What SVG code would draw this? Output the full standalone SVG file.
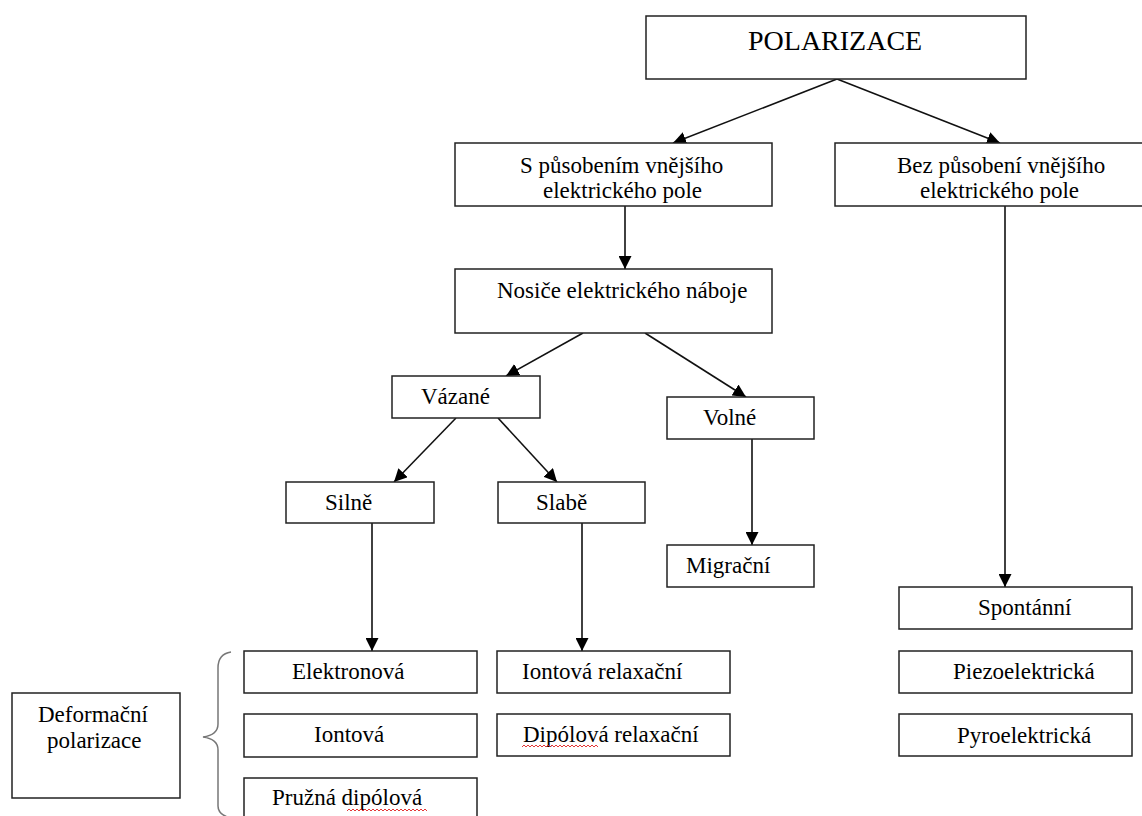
<svg xmlns="http://www.w3.org/2000/svg" width="1142" height="816" viewBox="0 0 1142 816">
<style>
.box{fill:#fff;stroke:#222;stroke-width:1.5}
.t{font-family:"Liberation Serif","Times New Roman",serif;font-size:23px;fill:#000}
.big{font-size:28px}
.c{stroke:#111;stroke-width:1.6;fill:none}
.sq{stroke:#e02020;stroke-width:0.9;fill:none}
</style>
<defs>
<marker id="ah" markerUnits="userSpaceOnUse" markerWidth="14" markerHeight="13" refX="13" refY="6.5" orient="auto">
<path d="M0,0 L13,6.5 L0,13 Z" fill="#000"/>
</marker>
</defs>
<rect width="1142" height="816" fill="#fff"/>
<g id="connectors">
<line class="c" x1="837" y1="79" x2="673" y2="143" marker-end="url(#ah)"/>
<line class="c" x1="837" y1="79" x2="1000" y2="143" marker-end="url(#ah)"/>
<line class="c" x1="625" y1="206" x2="625" y2="269" marker-end="url(#ah)"/>
<line class="c" x1="583" y1="333" x2="506" y2="376" marker-end="url(#ah)"/>
<line class="c" x1="645" y1="333" x2="746" y2="397" marker-end="url(#ah)"/>
<line class="c" x1="456" y1="418" x2="394" y2="482" marker-end="url(#ah)"/>
<line class="c" x1="498" y1="418" x2="557" y2="482" marker-end="url(#ah)"/>
<line class="c" x1="752" y1="439" x2="752" y2="545" marker-end="url(#ah)"/>
<line class="c" x1="372" y1="523" x2="372" y2="651" marker-end="url(#ah)"/>
<line class="c" x1="582" y1="523" x2="582" y2="651" marker-end="url(#ah)"/>
<line class="c" x1="1005" y1="206" x2="1005" y2="587" marker-end="url(#ah)"/>
</g>
<g id="polarizace"><rect class="box" x="646" y="16" width="380" height="63"/><text class="t big" x="748" y="50">POLARIZACE</text></g>
<g id="s-pusobenim"><rect class="box" x="455" y="143" width="317" height="63"/><text class="t" x="520" y="173">S působením vnějšího</text><text class="t" x="543" y="198">elektrického pole</text></g>
<g id="bez-pusobeni"><rect class="box" x="835" y="143" width="320" height="63"/><text class="t" x="897" y="173">Bez působení vnějšího</text><text class="t" x="920" y="198">elektrického pole</text></g>
<g id="nosice"><rect class="box" x="455" y="269" width="317" height="64"/><text class="t" x="497" y="298">Nosiče elektrického náboje</text></g>
<g id="vazane"><rect class="box" x="392" y="376" width="148" height="42"/><text class="t" x="421" y="404">Vázané</text></g>
<g id="volne"><rect class="box" x="667" y="397" width="147" height="42"/><text class="t" x="703" y="425">Volné</text></g>
<g id="silne"><rect class="box" x="286" y="482" width="148" height="41"/><text class="t" x="325" y="510">Silně</text></g>
<g id="slabe"><rect class="box" x="498" y="482" width="147" height="41"/><text class="t" x="536" y="510">Slabě</text></g>
<g id="migracni"><rect class="box" x="667" y="545" width="147" height="42"/><text class="t" x="686" y="573">Migrační</text></g>
<g id="spontanni"><rect class="box" x="899" y="587" width="233" height="42"/><text class="t" x="978" y="615">Spontánní</text></g>
<g id="piezoelektricka"><rect class="box" x="899" y="651" width="233" height="42"/><text class="t" x="953" y="679">Piezoelektrická</text></g>
<g id="pyroelektricka"><rect class="box" x="899" y="714" width="233" height="42"/><text class="t" x="957" y="743">Pyroelektrická</text></g>
<g id="iontova-relaxacni"><rect class="box" x="497" y="651" width="233" height="42"/><text class="t" x="522" y="679">Iontová relaxační</text></g>
<g id="dipolova-relaxacni"><rect class="box" x="497" y="714" width="233" height="42"/><text class="t" x="523" y="742">Dipólová relaxační</text><path class="sq" d="M522,747 l2,-2 l2,2 l2,-2 l2,2 l2,-2 l2,2 l2,-2 l2,2 l2,-2 l2,2 l2,-2 l2,2 l2,-2 l2,2 l2,-2 l2,2 l2,-2 l2,2 l2,-2 l2,2 l2,-2 l2,2 l2,-2 l2,2 l2,-2 l2,2 l2,-2 l2,2 l2,-2 l2,2 l2,-2 l2,2 l2,-2 l2,2 l2,-2 l2,2 l2,-2 l2,2"/></g>
<g id="elektronova"><rect class="box" x="244" y="651" width="233" height="42"/><text class="t" x="292" y="679">Elektronová</text></g>
<g id="iontova"><rect class="box" x="244" y="714" width="233" height="43"/><text class="t" x="314" y="742">Iontová</text></g>
<g id="pruzna-dipolova"><rect class="box" x="244" y="778" width="233" height="50"/><text class="t" x="272" y="805">Pružná dipólová</text><path class="sq" d="M347,811 l2,-2 l2,2 l2,-2 l2,2 l2,-2 l2,2 l2,-2 l2,2 l2,-2 l2,2 l2,-2 l2,2 l2,-2 l2,2 l2,-2 l2,2 l2,-2 l2,2 l2,-2 l2,2 l2,-2 l2,2 l2,-2 l2,2 l2,-2 l2,2 l2,-2 l2,2 l2,-2 l2,2 l2,-2 l2,2 l2,-2 l2,2 l2,-2 l2,2 l2,-2 l2,2 l2,-2 l2,2"/></g>
<g id="brace"><path d="M231,652 Q218,654 218,668 L218,724 Q218,735 203,737 Q218,739 218,750 L218,806 Q218,815 231,818" fill="none" stroke="#777" stroke-width="1.5"/></g>
<g id="deformacni"><rect class="box" x="12" y="693" width="168" height="105"/><text class="t" x="38" y="722">Deformační</text><text class="t" x="47" y="748">polarizace</text></g>
</svg>
